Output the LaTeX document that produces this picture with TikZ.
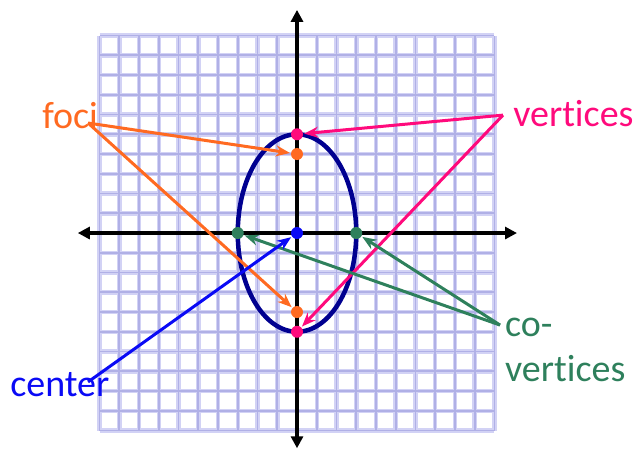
\documentclass[tikz,border=0pt]{standalone}
\usepackage{fontspec}
\setmainfont[Ligatures=NoCommon]{Carlito}
\usepackage{tikz}
\usetikzlibrary{arrows.meta}
\definecolor{ellNavy}{HTML}{000090}
\definecolor{ellOrange}{HTML}{FF6A21}
\definecolor{ellPink}{HTML}{FF0A7C}
\definecolor{ellGreen}{HTML}{2E805C}
\definecolor{ellBlue}{HTML}{0A0AF5}
\definecolor{ellGrid}{HTML}{D2D2F5}
\definecolor{ellGridDark}{HTML}{B0B0E6}

\begin{document}
\begin{tikzpicture}[
  x=19.75bp,y=19.75bp,
  gridline/.style={draw=ellGrid,line width=4.5bp},
  gridcore/.style={draw=ellGridDark,line width=1.8bp},
  axis/.style={draw=black,line width=3.5bp,{Triangle[length=12bp,width=12bp]}-{Triangle[length=12bp,width=12bp]}},
  pt/.style={circle,inner sep=0pt,minimum size=12bp},
  lab/.style={font=\fontsize{38bp}{45bp}\selectfont,inner sep=0pt},
  ptr/.style={line width=3bp,-{Stealth[length=14bp,width=11bp]},shorten >=1bp}
]
  \useasboundingbox (-15.04,-10.99) rectangle (17.47,11.80);
  \foreach \k in {-10,...,10}{
    \draw[gridline] (\k,-10) -- (\k,10);
    \draw[gridline] (-10,\k) -- (10,\k);
  }
  \foreach \k in {-10,...,10}{
    \draw[gridcore] (\k,-10) -- (\k,10);
    \draw[gridcore] (-10,\k) -- (10,\k);
  }
  \draw[axis] (-11.1,0) -- (11.14,0);
  \draw[axis] (0,-10.9) -- (0,11.3);
  \draw[draw=ellNavy,line width=4.5bp] (0,0) ellipse [x radius=3,y radius=5];

  % points on the ellipse
  \node[pt,fill=ellPink] (vtop) at (0,5) {};
  \node[pt,fill=ellPink] (vbot) at (0,-5) {};
  \node[pt,fill=ellOrange] (ftop) at (0,4) {};
  \node[pt,fill=ellOrange] (fbot) at (0,-4) {};
  \node[pt,fill=ellGreen] (cleft) at (-3,0) {};
  \node[pt,fill=ellGreen] (cright) at (3,0) {};
  \node[pt,fill=ellBlue] (ctr) at (0,0) {};

  % labels
  \node[lab,text=ellOrange,anchor=base west] (foci) at (-12.91,5.27) {foci};
  \node[lab,text=ellPink,anchor=base west] (vert) at (10.94,5.37) {vertices};
  \node[lab,text=ellGreen,anchor=base west,align=left] (covert) at (10.53,-7.54) {co-\\vertices};
  \node[lab,text=ellBlue,anchor=base west] (center) at (-14.53,-8.30) {center};

  \coordinate (fociTail) at (-10.58,5.57);
  \coordinate (vertTail) at (10.43,5.97);
  \coordinate (covertTail) at (10.28,-4.66);
  \coordinate (centerTail) at (-10.58,-7.54);

  \draw[ptr,ellOrange] (fociTail) -- (ftop);
  \draw[ptr,ellOrange] (fociTail) -- (fbot);
  \draw[ptr,ellPink] (vertTail) -- (vtop);
  \draw[ptr,ellPink] (vertTail) -- (vbot);
  \draw[ptr,ellGreen] (covertTail) -- (cleft);
  \draw[ptr,ellGreen] (covertTail) -- (cright);
  \draw[ptr,ellBlue] (centerTail) -- (ctr);
\end{tikzpicture}
\end{document}
